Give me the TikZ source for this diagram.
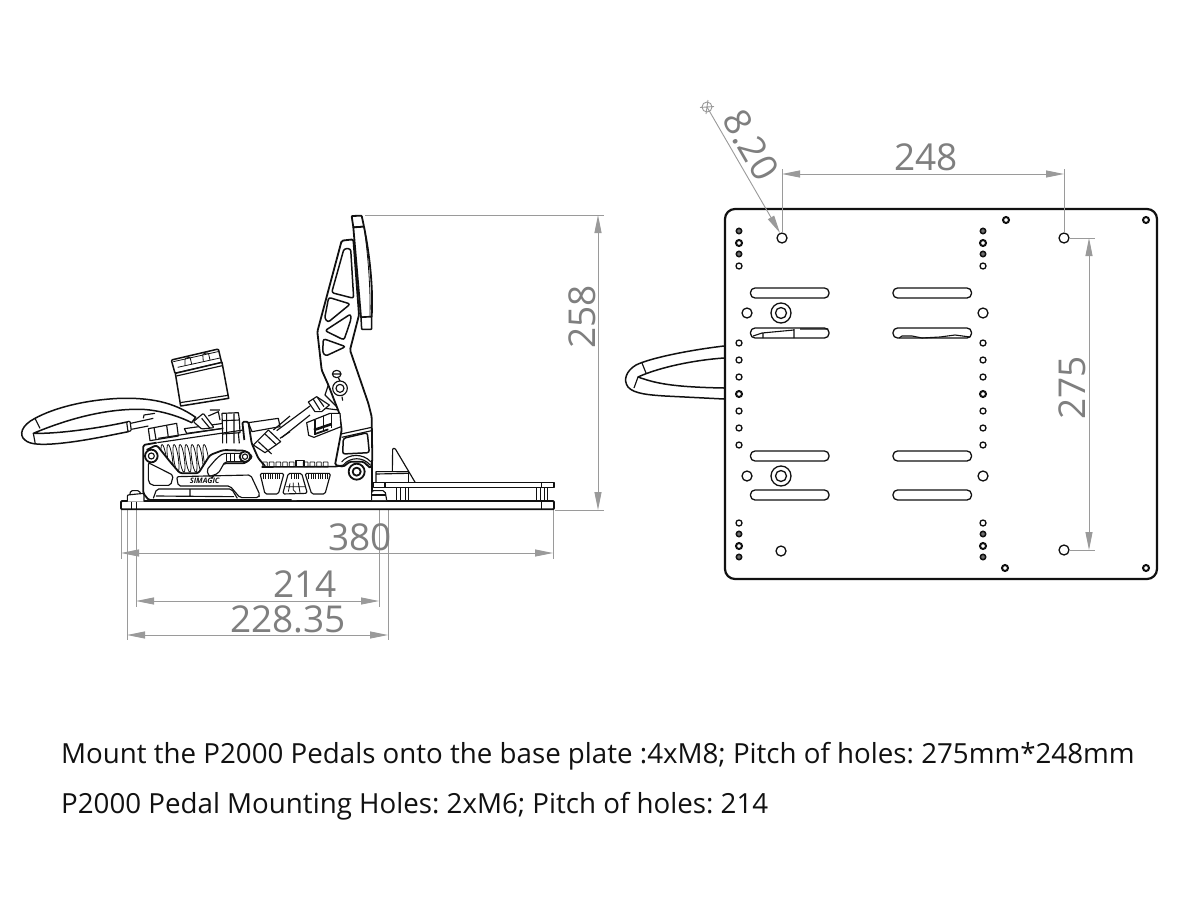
\documentclass[tikz,border=0pt]{standalone}
\usepackage{fontspec}
\setmainfont{Open Sans}
\usetikzlibrary{arrows.meta}
\definecolor{dimc}{HTML}{9A9A9A}
\definecolor{dimt}{HTML}{7F7F7F}
\definecolor{ink}{HTML}{111111}
\frenchspacing
\tikzset{
  ext/.style={draw=dimc,line width=.9pt},
  dimline/.style={draw=dimc,line width=.9pt,{Triangle[length=18pt,width=7pt,fill=dimc]}-{Triangle[length=18pt,width=7pt,fill=dimc]}},
  dimtxt/.style={text=dimt,font=\fontsize{37}{37}\selectfont,inner sep=0pt},
  body/.style={draw=ink,line width=1.15pt,line join=round},
  thin part/.style={draw=ink,line width=.8pt,line join=round},
  bold part/.style={draw=ink,line width=1.8pt,line join=round},
  plate/.style={draw=ink,line width=2.2pt},
  hole/.style={draw=ink,line width=1.3pt,fill=white},
  boldhole/.style={draw=ink,line width=2pt,fill=white},
  darkhole/.style={draw=ink,line width=1.5pt,fill=ink!60},
  captxt/.style={font=\fontsize{27.7}{30}\selectfont,text=ink,anchor=base west,inner sep=0pt},
}
\begin{document}
\begin{tikzpicture}[x=1pt,y=-1pt]
\useasboundingbox (0,0) rectangle (1200,900);
\fill[white] (0,0) rectangle (1200,900);

% ---------- right view: plate
\draw[plate,rounded corners=10pt] (725,209) rectangle (1157,579);
% hose
\draw[body,line width=1.5pt] (724,346) .. controls (690,350) and (650,358) .. (636,365)
  .. controls (626,371) and (623,380) .. (628,387) .. controls (634,394) and (650,395) .. (665,396) -- (724,399);
\draw[body,line width=1.5pt] (724,358) .. controls (695,360) and (660,367) .. (638,377) .. controls (655,383) and (670,387) .. (724,388);
\draw[body] (642,363) -- (646,373) (638,377) -- (634,388);
% plate holes
\foreach \x in {739,983}{
  \foreach \y in {231,254,534,557}{\draw[darkhole] (\x,\y) circle (2.7);}
  \foreach \y in {243,394,546}{\draw[boldhole] (\x,\y) circle (3);}
  \foreach \y in {266,343,360,377,411,428,445,523}{\draw[hole] (\x,\y) circle (3);}
}
\foreach \x/\y in {747/313,983/313,747/476,983/476,782/238,1064/238,781/551,1064/550}{\draw[hole] (\x,\y) circle (5);}
\foreach \y in {313,476}{\draw[hole] (781,\y) circle (10); \draw[hole] (781,\y) circle (5.5);}
\foreach \x/\y in {1006/220,1146/220,1005/568,1146/568}{\draw[boldhole] (\x,\y) circle (3);}
\foreach \x in {750.5,893}{\foreach \y in {288,328,451,490}{
  \draw[hole,rounded corners=4.5pt] (\x,\y) rectangle ++(78.5,10);}}
\draw[thin part,line width=1.1pt] (753,336) -- (762,333) -- (794,330) (763,333) -- (763,338) (794,329) -- (794,338) (800,329) -- (828,329);
\draw[thin part,line width=1.1pt] (899,338) -- (902,336) -- (912,336) -- (922,338) -- (940,337) -- (955,335) -- (970,337);

% ---------- dimensions right
\draw[ext] (782,169) -- (782,233) (1064,169) -- (1064,233);
\draw[ext] (1069,238) -- (1095,238) (1069,550) -- (1095,550);
\draw[dimline] (782,174) -- (1064,174);
\draw[dimline] (1089,238) -- (1089,550);
\node[dimtxt] (d248) at (926,157) {248};
\node[dimtxt,rotate=90] (d275) at (1072,388) {275};
\draw[ext,-{Triangle[length=18pt,width=7pt,fill=dimc]}] (707,107) -- (780,233);
\draw[ext] (707,107) circle (5) (700,107.5) -- (714,106.5) (708,100) -- (706,114);
\node[dimtxt,rotate=-60] (d820) at (751,145) {8.20};

% ---------- dimensions left
\draw[ext] (365,215) -- (604,215) (555,510) -- (604,510);
\draw[dimline] (598,215) -- (598,510);
\node[dimtxt,rotate=90] (d258) at (582,317) {258};
\draw[ext] (121,510) -- (121,559) (553,510) -- (553,559);
\draw[ext] (136,510) -- (136,607) (379,510) -- (379,607);
\draw[ext] (127,510) -- (127,640) (388,510) -- (388,640);
\draw[dimline] (121,553) -- (553,553);
\draw[dimline] (136,601) -- (379,601);
\draw[dimline] (127,635) -- (388,635);
\node[dimtxt] (d380) at (360,537) {380};
\node[dimtxt] (d214) at (305,584) {214};
\node[dimtxt] (d228) at (288,619) {228.35};

% base plate
\begin{scope}[shift={(260,200)},scale=0.33333]
  \draw[bold part,rounded corners=1pt,fill=white] (-417,903) rectangle (882,928);
  \draw[body] (845,903) -- (845,928);
\end{scope}

% ---------- left view: pedal, left half
\begin{scope}[shift={(10,330)},scale=0.33333]
  % foot and bolt
  \draw[body,fill=white,rounded corners=1pt] (352,515) -- (352,495) -- (402,490) -- (402,515);
  \draw[body,rounded corners=1.5pt] (360,492) -- (362,482) -- (388,482) -- (392,492);
  \draw[thin part] (365,515) -- (365,540) (378,515) -- (378,540);
  % hose
  \draw[body,line width=1.5pt,fill=white] (557,262) .. controls (490,215) and (420,203) .. (330,205)
    .. controls (220,210) and (130,235) .. (75,265) .. controls (35,285) and (25,315) .. (45,330)
    .. controls (60,345) and (100,345) .. (150,340) .. controls (220,333) and (290,318) .. (355,305)
    -- (355,275) .. controls (280,292) and (150,312) .. (70,310) .. controls (130,285) and (260,235) .. (395,238)
    .. controls (450,240) and (510,260) .. (545,278) -- cycle;
  \draw[body] (75,265) -- (90,295) (70,310) -- (76,342);
  \draw[body,fill=white,rounded corners=1pt] (350,276) -- (360,273) -- (364,302) -- (354,305) -- cycle;
  \draw[body] (362,280) -- (430,265) (364,298) -- (415,288);
  \draw[body] (400,265) -- (402,255) -- (435,250);
  % reservoir
  \draw[body,line width=1.5pt,fill=white,rounded corners=1pt] (484,90) -- (625,57) -- (635,98) -- (495,130) -- cycle;
  \draw[body,line width=1.5pt,fill=white] (496,130) -- (636,97) -- (656,205) -- (512,228) -- cycle;
  \draw[body] (499,138) -- (637,107);
  \draw[body] (510,218) -- (654,196);
  \draw[thin part] (490,95) -- (628,64);
  \draw[thin part] (503,112) -- (630,84);
  \draw[thin part,rounded corners=1pt] (525,107) -- (525,85) -- (540,81) -- (545,102) (580,95) -- (578,72) -- (595,68) -- (600,90);
  % body top assembly
  \draw[body,fill=white] (415,296) -- (500,280) -- (505,318) -- (420,332) -- cycle;
  \draw[body] (432,292) -- (438,328) (470,286) -- (475,322);
  \draw[body,fill=white] (523,296) -- (640,280) -- (640,295) -- (530,310) -- cycle;
  \draw[body,fill=white,rounded corners=1pt] (550,275) -- (580,250) -- (612,293) -- (575,297) -- cycle;
  \draw[body] (595,258) -- (625,245) -- (630,270);
  \draw[body] (575,265) -- (600,295) (600,240) -- (630,240);
  \draw[body,fill=white] (636,250) -- (685,248) -- (688,268) -- (690,308) -- (638,312) -- cycle;
  \draw[body] (636,272) -- (690,270);
  % rod
  \draw[body,fill=white] (715,278) -- (805,265) -- (810,290) -- (726,305) -- cycle;
  % housing
  \fill[white] (840,410) -- (765,408) -- (745,385) -- (725,340) -- (715,275) -- (697,275) -- (703,330) -- (440,338) -- (400,345) -- (400,490) -- (416,510) -- (860,510) -- (860,410) -- cycle;
  \draw[bold part,rounded corners=1.5pt] (765,408) -- (745,385) -- (725,340) -- (715,275) -- (697,275) -- (703,330);
  \draw[bold part,rounded corners=1.5pt] (440,338) -- (400,345) -- (400,490) -- (416,510) -- (845,510);
  \draw[body] (445,325) -- (640,295) (442,338) -- (700,300);
  \draw[body] (650,250) -- (650,340) (672,250) -- (672,340) (638,310) -- (638,340) (685,308) -- (688,340);
  % nut
  \draw[body,fill=white] (730,345) -- (775,300) -- (812,335) -- (765,368) -- cycle;
  \draw[body] (745,335) -- (785,372) (765,312) -- (800,345);
  \draw[body] (790,300) -- (840,258) (810,325) -- (840,305);
  % spring
  \foreach \x in {462,480,498,516,534,552,570,588}{\draw[thin part,rotate around={8:(\x,385)}] (\x,385) ellipse (7 and 42);}
  \fill[white,rounded corners=2.6pt] (410,360) -- (440,345) -- (480,395) -- (510,430) -- (565,430) -- (600,375) -- (640,360) -- (640,500) -- (410,500) -- cycle;
  \draw[bold part,rounded corners=2.6pt] (410,360) -- (440,345) -- (480,395) -- (510,430) -- (565,430) -- (600,375) -- (640,360) -- (705,362) -- (728,380) -- (705,400) -- (640,400) -- (620,420) -- (605,445);
  \draw[body,fill=white,rounded corners=2pt] (620,385) -- (640,370) -- (700,370) -- (705,395) -- (645,395) -- (625,430) -- (598,440) -- (590,420) -- cycle;
  \foreach \x in {650,662,674}{\draw[thin part] (\x,372) -- (\x,394);}
  \draw[bold part,fill=white] (705,380) circle (16);
  \draw[body,fill=white] (705,380) circle (8);
  \draw[bold part,fill=white] (424,378) circle (19);
  \draw[body,fill=white] (424,378) circle (9);
  % lower windows
  \begin{scope}[rounded corners=2pt]
   \draw[body] (415,398) -- (490,436) -- (482,466) -- (425,466) -- (415,455) -- cycle;
   \draw[body] (500,440) -- (722,435) -- (750,495) -- (745,503) -- (690,503) -- (660,468) -- (505,468) -- cycle;
   \draw[body] (430,505) -- (440,477) -- (665,477) -- (682,505);
  \end{scope}
  \draw[body] (438,498) -- (672,500) (540,477) -- (540,500);
  \node[inner sep=0pt,text=ink] (logo) at (584,453) {\fontsize{7.5}{8}\selectfont\bfseries\itshape SIMAGIC};
\end{scope}

% ---------- left view: pedal, right half (zoom coordinates)
\begin{scope}[shift={(260,200)},scale=0.33333]
  % upper plate
  \draw[body,line width=1.5pt,fill=white] (340,848) rectangle (882,862);
  \draw[body] (375,848) -- (375,862) (845,848) -- (845,862);
  \draw[thin part] (408,862) -- (408,903) (420,862) -- (420,903) (436,862) -- (436,903) (444,862) -- (444,903)
    (830,862) -- (830,903) (840,862) -- (840,903) (852,862) -- (852,903) (862,862) -- (862,903);
  % bracket
  \draw[body] (348,848) -- (348,815) -- (445,815) (348,822) -- (445,820);
  \draw[body,rounded corners=1pt] (397,815) -- (398,745) -- (405,745) -- (466,848);
  \draw[body] (445,815) -- (445,848);
  % lever
  \draw[bold part,fill=white,rounded corners=1.5pt] (280,118) -- (245,122) -- (172,395) -- (185,510) -- (205,555)
     -- (238,640) -- (245,690) -- (225,795) -- (250,800) -- (270,785) -- (310,785) -- (332,805) -- (337,780)
     -- (335,650) -- (325,610) -- (270,450) -- (297,345) -- cycle;
  % pad
  \draw[bold part,fill=white,rounded corners=.7pt] (275,48) -- (305,47) -- (312,80) -- (280,82) -- cycle;
  \draw[bold part,fill=white] (280,82) -- (312,80) .. controls (330,170) and (340,270) .. (335,350) -- (303,352) -- cycle;
  \draw[body,line width=1.5pt,fill=white,rounded corners=.7pt] (303,352) -- (335,350) -- (335,388) -- (305,388) -- cycle;
  \draw[thin part] (312,80) .. controls (325,170) and (332,270) .. (330,350);
  % lever windows
  \begin{scope}[rounded corners=2.4pt]
  \draw[bold part,line width=1.5pt] (272,146) -- (252,146) -- (215,278) -- (281,295) -- cycle;
  \draw[bold part,line width=1.5pt] (206,292) -- (271,312) -- (204,367) -- (194,355) -- cycle;
  \draw[bold part,line width=1.5pt] (272,342) -- (273,358) -- (252,420) -- (195,392) -- cycle;
  \draw[bold part,line width=1.5pt] (190,416) -- (257,440) -- (197,468) -- (188,458) -- cycle;
  \draw[bold part,line width=1.5pt] (250,715) -- (322,698) -- (328,758) -- (248,762) -- cycle;
  \end{scope}
  \draw[body] (243,702) -- (335,682) (245,712) -- (335,692);
  % arch and pivot
  \draw[body] (245,786) .. controls (265,760) and (310,760) .. (332,785);
  \draw[body] (250,795) .. controls (270,770) and (310,770) .. (330,795);
  \draw[bold part,fill=white] (290,815) circle (24);
  \draw[bold part,fill=white] (290,815) circle (12);
  % body outline right
  \draw[bold part] (335,785) -- (335,900);
  \draw[body,fill=white,rounded corners=2pt] (335,900) -- (335,872) -- (375,872) -- (380,900);
  \draw[body] (335,885) -- (378,885);
  % clevis
  \draw[body] (240,565) circle (22) (240,565) circle (12);
  \draw[body] (230,522) ellipse (13 and 11) (218,522) -- (242,522);
  \draw[body] (235,533) -- (240,543) (246,590) -- (248,602);
  % rods
  \draw[body] (50,692) -- (150,618) (66,712) -- (150,645);
  \draw[body,fill=white] (145,606) -- (170,590) -- (208,615) -- (185,635) -- (165,635) -- cycle;
  \draw[body] (160,598) -- (180,630) (172,592) -- (192,620);
  \draw[body] (205,555) -- (195,585) -- (230,620);
  \draw[body,fill=white] (140,668) -- (210,640) -- (240,640) -- (243,680) -- (162,712) -- (146,706) -- cycle;
  \draw[body] (165,660) -- (165,705) (190,648) -- (190,695) (215,640) -- (215,685);
  \draw[line width=2.6pt,ink] (162,690) -- (215,672);
  \draw[line width=1.8pt,ink] (165,702) -- (205,688);
  \draw[body] (195,625) -- (235,630);
  % tooth row
  \foreach \x in {8,28,48,68,88,130,150,170,190}{\draw[thin part,rounded corners=.4pt] (\x,786) rectangle ++(14,14);}
  \draw[body] (108,782) rectangle (132,800);
  \draw[body,line width=1.6pt] (5,801) -- (225,800) -- (250,796);
  % windows bottom
  \begin{scope}[rounded corners=1.6pt]
   \draw[body] (0,820) -- (72,820) -- (55,882) -- (15,882) -- cycle;
   \draw[body] (85,820) -- (125,820) -- (142,880) -- (68,882) -- cycle;
   \draw[body] (135,820) -- (212,820) -- (195,882) -- (155,882) -- cycle;
  \end{scope}
  \foreach \x in {10,17,24,31,38,45,52,59,146,153,160,167,174,181,188,195,202}{\draw[thin part] (\x,822) -- (\x,838);}
  \foreach \x in {95,102,109,116}{\draw[thin part] (\x,822) -- (\x,838);}
  \draw[thin part] (90,850) -- (85,875) (100,848) -- (100,870) -- (108,878) (115,848) -- (120,878) (78,860) -- (135,860);
\end{scope}

% ---------- captions
\node[captxt] (c1) at (61,763) {Mount the P2000 Pedals onto the base plate :4xM8; Pitch of holes: 275mm*248mm};
\node[captxt] (c2) at (61,813) {P2000 Pedal Mounting Holes: 2xM6; Pitch of holes: 214};
\end{tikzpicture}
\end{document}
